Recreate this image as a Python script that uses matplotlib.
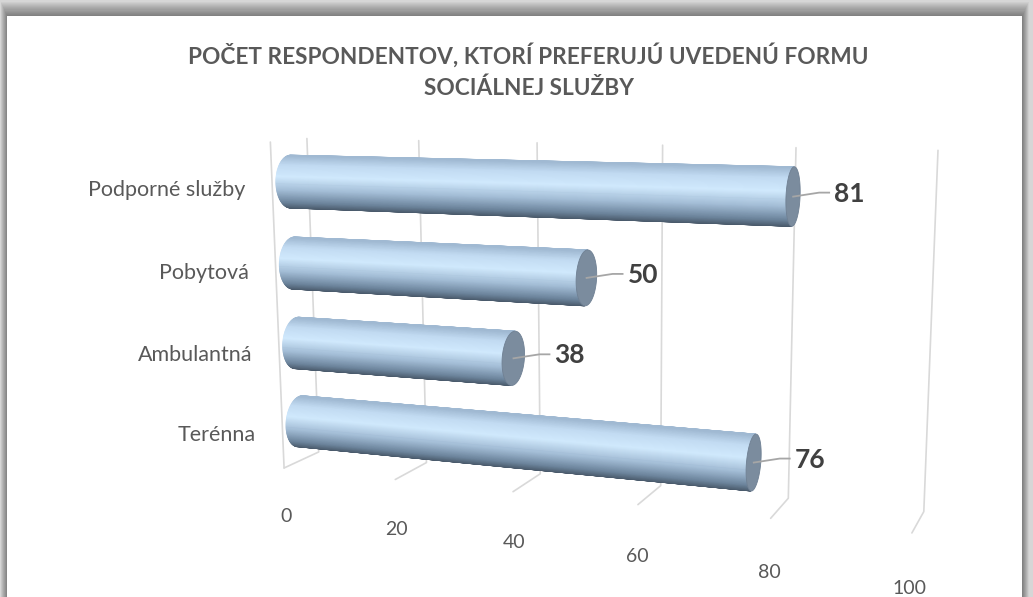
import numpy as np
import matplotlib
matplotlib.use("Agg")
import matplotlib.pyplot as plt
from matplotlib.colors import LinearSegmentedColormap
from matplotlib.patches import Polygon, Rectangle

# data
categories = ["Terénna", "Ambulantná", "Pobytová", "Podporné služby"]
values = [76, 38, 50, 81]
value_ticks = [0, 20, 40, 60, 80, 100]
title = "POČET RESPONDENTOV, KTORÍ PREFERUJÚ UVEDENÚ FORMU\nSOCIÁLNEJ SLUŽBY"

W, H = 1033, 597
DEPTH = 0.8      # depth of the 3d box, in category units
RADIUS = 0.32    # cylinder radius, in category units
VMAX = 100.0

# perspective of the 3d frame: (value, height, depth) -> pixel
frame_3d = [(0, 4, 0), (100, 4, 0), (0, 0, 0), (100, 0, 0),
            (0, 0, DEPTH), (100, 0, DEPTH), (0, 4, DEPTH),
            (40, 4, 0), (40, 0, 0), (40, 0, DEPTH)]
frame_px = [(305, 139), (937.7, 150), (320, 452), (924, 512),
            (283, 468), (911.7, 533), (271.7, 141.7),
            (538, 143), (540, 473), (513, 492)]


def fit_camera(p3, p2):
    rows = []
    for (X, Y, Z), (u, v) in zip(p3, p2):
        X = X / VMAX
        u, v = u / 1000.0, v / 1000.0
        rows.append([X, Y, Z, 1, 0, 0, 0, 0, -u * X, -u * Y, -u * Z, -u])
        rows.append([0, 0, 0, 0, X, Y, Z, 1, -v * X, -v * Y, -v * Z, -v])
    _, _, vt = np.linalg.svd(np.array(rows, dtype=float))
    return vt[-1].reshape(3, 4)


CAM = fit_camera(frame_3d, frame_px)


def proj(v, h, d):
    v, h, d = np.broadcast_arrays(np.asarray(v, float), np.asarray(h, float),
                                  np.asarray(d, float))
    pts = np.stack([v / VMAX, h, d, np.ones_like(v)])
    q = CAM @ pts.reshape(4, -1)
    x = (q[0] / q[2] * 1000.0).reshape(v.shape)
    y = (q[1] / q[2] * 1000.0).reshape(v.shape)
    return x, y


# shading across the visible side, bottom edge -> top edge
cyl_cmap = LinearSegmentedColormap.from_list(
    "cyl", [(0.0, "#4a5a6b"), (0.12, "#6d859d"), (0.35, "#a3bdd6"),
            (0.6, "#d0e9fd"), (0.82, "#c2dbf2"), (1.0, "#a0b9d2")])

fig = plt.figure(figsize=(W / 100, H / 100), dpi=100)
fig.patch.set_facecolor("#d6d6d6")
ax = fig.add_axes([0, 0, 1, 1])
ax.set_xlim(0, W)
ax.set_ylim(H, 0)
ax.axis("off")

# chart box with soft shadow
for k in range(14):
    ax.add_patch(Rectangle((7 - k * 0.5, 16 - k * 1.1), 1015 + k * 1.0, 600,
                           facecolor="black", alpha=0.035, lw=0, zorder=0))
ax.add_patch(Rectangle((7, 16), 1015, 600, facecolor="white", lw=0, zorder=0.5))

ax.text(W / 2 + 12, 71, title, ha="center", va="center", fontsize=16.3,
        fontweight="bold", color="#595959", family="Lato", linespacing=1.55)

# gridlines: back wall + floor
grid_kw = dict(color="#d9d9d9", lw=1.2, zorder=1, solid_capstyle="round")
for t in value_ticks:
    gx, gy = proj([t, t, t], [4, 0, 0], [0, 0, DEPTH])
    ax.plot(gx, gy, **grid_kw)
    lx, ly = proj(t, -0.62, DEPTH)
    ax.text(lx, ly, str(t), ha="center", va="center", fontsize=14,
            color="#595959", family="Lato")
gx, gy = proj([0, 0], [4, 0], [DEPTH, DEPTH])
ax.plot(gx, gy, **grid_kw)

# cylinders
theta = np.linspace(0, 2 * np.pi, 181)
for i, (cat, val) in enumerate(zip(categories, values)):
    hc = i + 0.5
    hh = hc + RADIUS * np.sin(theta)
    dd = DEPTH / 2 + RADIUS * np.cos(theta)
    x0, y0 = proj(0, hh, dd)
    x1, y1 = proj(val, hh, dd)
    xm, ym = proj(val / 2, hh, dd)
    quads, ymid, signs = [], [], []
    for j in range(len(theta) - 1):
        q = np.array([[x0[j], y0[j]], [x1[j], y1[j]],
                      [x1[j + 1], y1[j + 1]], [x0[j + 1], y0[j + 1]]])
        area = 0.5 * np.sum(q[:, 0] * np.roll(q[:, 1], -1) - np.roll(q[:, 0], -1) * q[:, 1])
        quads.append(q)
        ymid.append(0.5 * (ym[j] + ym[j + 1]))
        signs.append(np.sign(area))
    front = signs[0]
    vis = [k for k in range(len(quads)) if signs[k] == front]
    ylo = max(ymid[k] for k in vis)
    yhi = min(ymid[k] for k in vis)
    for k in vis:
        s = (ylo - ymid[k]) / (ylo - yhi)
        c = cyl_cmap(s)
        ax.add_patch(Polygon(quads[k], closed=True, facecolor=c, edgecolor=c,
                             lw=0.6, zorder=3))
    ax.add_patch(Polygon(np.column_stack([x1, y1]), closed=True, facecolor="#7b8c9e",
                         edgecolor="#6f8093", lw=0.6, zorder=4))

    # data label with leader
    cx, cy = proj(val, hc, DEPTH / 2)
    cx, cy = float(cx), float(cy)
    ax.plot([cx, cx + 26, cx + 36], [cy, cy - 4, cy - 4], color="#a6a6a6", lw=1.3, zorder=5)
    ax.text(cx + 41, cy - 3, str(val), ha="left", va="center", fontsize=19,
            fontweight="bold", color="#404040", family="Lato", zorder=6)

    # category label
    tx, ty = proj(0, hc, DEPTH)
    ax.text(float(tx) - 27, float(ty) + 6, cat, ha="right", va="center", fontsize=15.5,
            color="#595959", family="Lato")

fig.savefig("out.png", dpi=100, facecolor=fig.get_facecolor())
